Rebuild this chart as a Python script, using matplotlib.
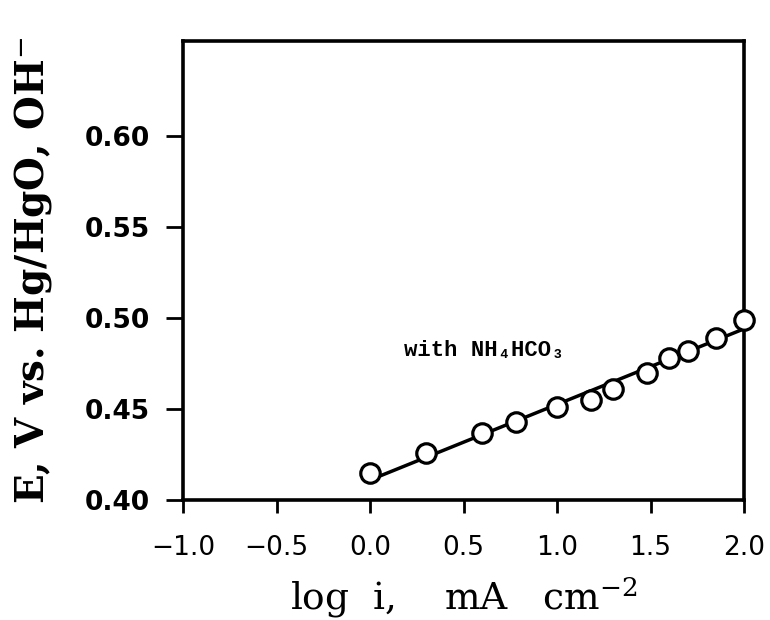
import matplotlib.pyplot as plt

plt.rcParams["mathtext.fontset"] = "dejavuserif"

# measured points (log i vs E)
log_i = [0.0, 0.30, 0.60, 0.78, 1.0, 1.18, 1.30, 1.48, 1.60, 1.70, 1.85, 2.0]
potential = [0.415, 0.426, 0.437, 0.443, 0.451, 0.455, 0.461, 0.470, 0.478, 0.482, 0.489, 0.499]

# Tafel fit line end points
fit_x = [0.0, 2.0]
fit_y = [0.411, 0.494]

x_ticks = [-1.0, -0.5, 0.0, 0.5, 1.0, 1.5, 2.0]
x_tick_labels = ["\u22121.0", "\u22120.5", "0.0", "0.5", "1.0", "1.5", "2.0"]
y_ticks = [0.40, 0.45, 0.50, 0.55, 0.60]

fig = plt.figure(figsize=(7.7, 6.2), dpi=100, facecolor="white")
ax = fig.add_axes([0.2377, 0.1935, 0.7286, 0.7403])

ax.plot(fit_x, fit_y, color="black", linewidth=2.5, zorder=2)
ax.plot(log_i, potential, linestyle="none", marker="o", markersize=14,
        markerfacecolor="white", markeredgecolor="black", markeredgewidth=2.3,
        zorder=3, clip_on=False)

ax.set_xlim(-1.0, 2.0)
ax.set_ylim(0.40, 0.652)
ax.set_xticks(x_ticks)
ax.set_xticklabels(x_tick_labels)
ax.set_yticks(y_ticks)
ax.set_yticklabels([f"{v:.2f}" for v in y_ticks])

for spine in ax.spines.values():
    spine.set_linewidth(2.6)
ax.tick_params(axis="x", direction="out", length=9, width=2.0, pad=16, labelsize=19)
ax.tick_params(axis="y", direction="out", length=12, width=2.0, pad=12, labelsize=19)
for lab in ax.get_xticklabels():
    lab.set_family("DejaVu Sans")
for lab in ax.get_yticklabels():
    lab.set_family("DejaVu Sans")
    lab.set_fontweight("bold")

ax.text(0.61, 0.482, "with NH\u2084HCO\u2083", fontsize=16, fontweight="bold",
        family=["Liberation Mono", "DejaVu Sans Mono"], ha="center", va="center")

ax.set_xlabel(r"log  i,    mA   cm$^{-2}$", fontsize=27, family="DejaVu Serif", labelpad=10)
ax.set_ylabel(r"E, V vs. Hg/HgO, OH$^{-}$", fontsize=28, family="DejaVu Serif",
              fontweight="bold", labelpad=22)

fig.savefig("out.png", dpi=100, facecolor="white")
